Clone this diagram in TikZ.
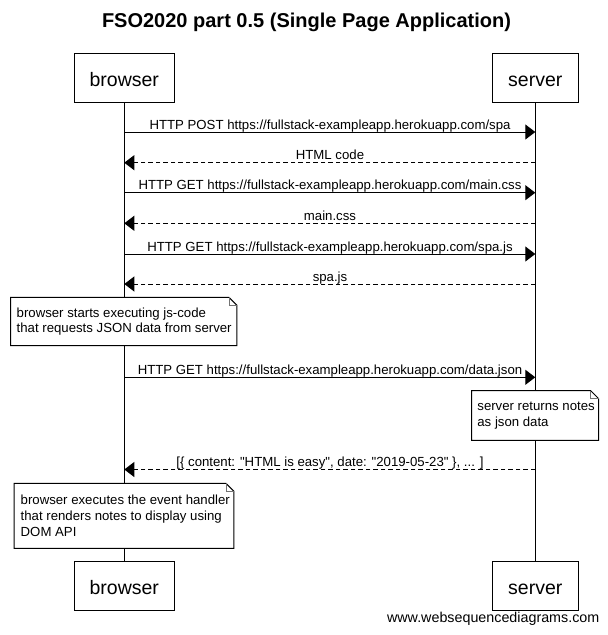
\documentclass[tikz,border=0pt]{standalone}
\usepackage{fontspec}
\setmainfont{Liberation Sans}[Ligatures=TeXOff]
\usetikzlibrary{arrows.meta}
\begin{document}
\begin{tikzpicture}[x=1pt,y=-1pt,
  actor/.style={draw,line width=1pt,fill=white,minimum height=49pt,inner sep=0pt,
    font=\fontsize{19.5}{23}\selectfont,text height=17.4pt,text depth=0pt},
  lifeline/.style={line width=1pt},
  msgline/.style={line width=1pt,-{Triangle[length=10pt,width=15pt]}},
  retline/.style={msgline,dash pattern=on 4.5pt off 3pt},
  msglabel/.style={anchor=base,font=\fontsize{13.2}{15}\selectfont,inner sep=0pt},
  noteframe/.style={anchor=north west,fill=white,inner sep=0pt},
  notetext/.style={anchor=west,inner sep=0pt,align=left,font=\fontsize{13.2}{15.6}\selectfont},
  noteline/.style={line width=1pt},
  notefold/.style={draw=black!55,line width=0.8pt}
]
\useasboundingbox (0,0) rectangle (608,635);

% title
\node[font=\fontsize{20}{24}\selectfont\bfseries,anchor=base,inner sep=0pt] (title) at (306.5,27.5)
  {FSO2020 part 0.5 (Single Page Application)};

% participants
\node[actor,minimum width=100pt] (bt) at (124.3,77.8) {browser};
\node[actor,minimum width=86pt] (st) at (535.3,77.8) {server};
\node[actor,minimum width=100pt,minimum height=48.3pt] (bb) at (124.3,585.85) {browser};
\node[actor,minimum width=86pt,minimum height=48.3pt] (sb) at (535.3,585.85) {server};

% lifelines
\draw[lifeline] (bt.south) -- (bb.north);
\draw[lifeline] (st.south) -- (sb.north);

% message anchor points on lifelines
\coordinate (b1) at (124.3,132);   \coordinate (s1) at (535.3,132);
\coordinate (b2) at (124.3,162.7); \coordinate (s2) at (535.3,162.7);
\coordinate (b3) at (124.3,192.7); \coordinate (s3) at (535.3,192.7);
\coordinate (b4) at (124.3,223.3); \coordinate (s4) at (535.3,223.3);
\coordinate (b5) at (124.3,254);   \coordinate (s5) at (535.3,254);
\coordinate (b6) at (124.3,284);   \coordinate (s6) at (535.3,284);
\coordinate (b7) at (124.3,377.3); \coordinate (s7) at (535.3,377.3);
\coordinate (b8) at (124.3,469.5); \coordinate (s8) at (535.3,469.5);

% messages
\draw[msgline] (b1) -- (s1);
\node[msglabel] (l1) at (330,129) {HTTP POST https://fullstack-exampleapp.herokuapp.com/spa};
\draw[retline] (s2) -- (b2);
\node[msglabel] (l2) at (330,159.7) {HTML code};
\draw[msgline] (b3) -- (s3);
\node[msglabel] (l3) at (330,189.7) {HTTP GET https://fullstack-exampleapp.herokuapp.com/main.css};
\draw[retline] (s4) -- (b4);
\node[msglabel] (l4) at (330,220.3) {main.css};
\draw[msgline] (b5) -- (s5);
\node[msglabel] (l5) at (330,251) {HTTP GET https://fullstack-exampleapp.herokuapp.com/spa.js};
\draw[retline] (s6) -- (b6);
\node[msglabel] (l6) at (330,281) {spa.js};
\draw[msgline] (b7) -- (s7);
\node[msglabel] (l7) at (330,374.3) {HTTP GET https://fullstack-exampleapp.herokuapp.com/data.json};
\draw[retline] (s8) -- (b8);
\node[msglabel] (l8) at (330,466.5) {[\{ content: "HTML is easy", date: "2019-05-23" \}, ... ]};

% note 1
\node[noteframe,minimum width=226pt,minimum height=48pt] (n1) at (10.5,297.3) {};
\draw[noteline] (n1.north west) -- ([xshift=-8pt]n1.north east) -- ([yshift=-8pt]n1.north east)
  -- (n1.south east) -- (n1.south west) -- cycle;
\draw[notefold] ([xshift=-8pt]n1.north east) -- ([xshift=-8pt,yshift=-8pt]n1.north east) -- ([yshift=-8pt]n1.north east);
\node[notetext] (t1) at ([xshift=6pt]n1.west)
  {browser starts executing js-code\\that requests JSON data from server};

% note 2
\node[noteframe,minimum width=126.6pt,minimum height=49.3pt] (n2) at (471.7,390.7) {};
\draw[noteline] (n2.north west) -- ([xshift=-8pt]n2.north east) -- ([yshift=-8pt]n2.north east)
  -- (n2.south east) -- (n2.south west) -- cycle;
\draw[notefold] ([xshift=-8pt]n2.north east) -- ([xshift=-8pt,yshift=-8pt]n2.north east) -- ([yshift=-8pt]n2.north east);
\node[notetext] (t2) at ([xshift=5.5pt]n2.west)
  {server returns notes\\as json data};

% note 3
\node[noteframe,minimum width=219.5pt,minimum height=64.7pt] (n3) at (14,483.3) {};
\draw[noteline] (n3.north west) -- ([xshift=-8pt]n3.north east) -- ([yshift=-8pt]n3.north east)
  -- (n3.south east) -- (n3.south west) -- cycle;
\draw[notefold] ([xshift=-8pt]n3.north east) -- ([xshift=-8pt,yshift=-8pt]n3.north east) -- ([yshift=-8pt]n3.north east);
\node[notetext] (t3) at ([xshift=6.5pt]n3.west)
  {browser executes the event handler\\that renders notes to display using\\DOM API};

% watermark
\node[anchor=base east,font=\fontsize{14.3}{16}\selectfont,inner sep=0pt] (wm) at (599.5,622.5)
  {www.websequencediagrams.com};
\end{tikzpicture}
\end{document}
